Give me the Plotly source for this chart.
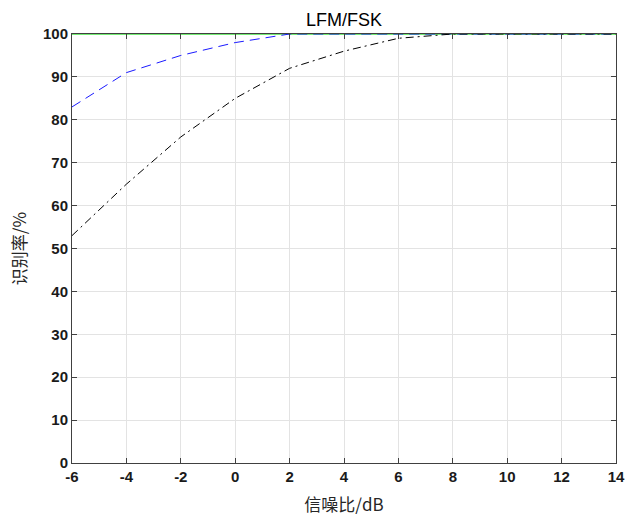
import plotly.graph_objects as go

snr = [-6, -4, -2, 0, 2, 4, 6, 8, 10, 12, 14]
green_vals = [100, 100, 100, 100, 100, 100, 100, 100, 100, 100, 100]
blue_vals = [83, 91, 95, 98, 100, 100, 100, 100, 100, 100, 100]
black_vals = [53, 65, 76, 85, 92, 96, 99, 100, 100, 100, 100]

fig = go.Figure()
fig.add_trace(go.Scatter(x=snr, y=green_vals, mode="lines",
                         line=dict(color="#74ea74", width=2), showlegend=False))
fig.add_trace(go.Scatter(x=snr, y=blue_vals, mode="lines",
                         line=dict(color="#1a1aff", width=1, dash="10px,6px"), showlegend=False))
fig.add_trace(go.Scatter(x=snr, y=black_vals, mode="lines",
                         line=dict(color="black", width=1, dash="8px,4px,2px,4px"), showlegend=False))

axis_common = dict(
    showgrid=True, gridcolor="#e3e3e3", gridwidth=1,
    showline=True, linecolor="#404040", linewidth=1, mirror="ticks",
    ticks="inside", ticklen=5, tickcolor="#404040",
    zeroline=False, automargin=False,
    tickfont=dict(family="Liberation Sans, Arial", size=15, color="#1a1a1a", weight="bold"),
)

fig.update_xaxes(range=[-6, 14], tickmode="array", tickvals=snr,
                 ticktext=[str(v) for v in snr],
                 title=dict(text="信噪比/dB", standoff=15,
                            font=dict(family="Noto Sans CJK SC", size=17, color="#262626")),
                 **axis_common)
fig.update_yaxes(range=[0, 100], tickmode="array", tickvals=list(range(0, 101, 10)),
                 title=dict(text="识别率/%", standoff=12,
                            font=dict(family="Noto Sans CJK SC", size=17, color="#262626")),
                 **axis_common)

fig.update_layout(
    width=629, height=516,
    margin=dict(l=72, r=13, t=34, b=53),
    plot_bgcolor="white", paper_bgcolor="white",
    title=dict(text="LFM/FSK", x=0.5, xanchor="center", xref="paper",
               y=1, yref="paper", yanchor="bottom", pad=dict(b=8),
               font=dict(family="Liberation Sans, Arial", size=18, color="black")),
)

fig.write_html("out.html")
